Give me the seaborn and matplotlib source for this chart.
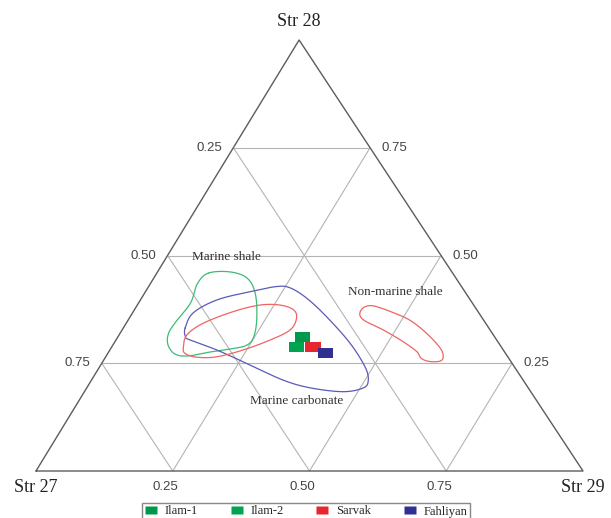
import numpy as np
import pandas as pd
import matplotlib
matplotlib.use("Agg")
import matplotlib.pyplot as plt
from matplotlib.lines import Line2D
import seaborn as sns

# ---- sample compositions (fractions of Str 27 / Str 28 / Str 29) ----
samples = ["Ilam-1", "Ilam-2", "Sarvak", "Fahliyan"]
str27 = [0.352, 0.375, 0.344, 0.329]
str28 = [0.311, 0.288, 0.288, 0.273]
str29 = [0.337, 0.337, 0.368, 0.398]
sample_colors = ["#00984a", "#00a352", "#e8262d", "#2e3192"]

# ---- source-field boundaries (Str 28, Str 29; Str 27 is the remainder) ----
marine_shale_28 = [0.459, 0.462, 0.448, 0.413, 0.357, 0.313, 0.292, 0.283, 0.276,
                   0.267, 0.271, 0.292, 0.318, 0.345, 0.390, 0.434]
marine_shale_29 = [0.094, 0.132, 0.170, 0.202, 0.232, 0.248, 0.245, 0.219, 0.185,
                   0.150, 0.124, 0.101, 0.089, 0.089, 0.095, 0.086]

marine_carb_28 = [0.332, 0.367, 0.397, 0.416, 0.428, 0.425, 0.401, 0.358, 0.297, 0.242,
                  0.211, 0.193, 0.184, 0.193, 0.211, 0.246, 0.281, 0.304, 0.312]
marine_carb_29 = [0.113, 0.111, 0.140, 0.191, 0.234, 0.260, 0.302, 0.359, 0.431, 0.485,
                  0.506, 0.506, 0.473, 0.408, 0.350, 0.273, 0.195, 0.135, 0.123]

lacustrine_28 = [0.288, 0.316, 0.343, 0.370, 0.385, 0.385, 0.374, 0.354, 0.327, 0.304,
                 0.281, 0.265, 0.264, 0.273]
lacustrine_29 = [0.131, 0.124, 0.141, 0.183, 0.224, 0.261, 0.291, 0.306, 0.307, 0.282,
                 0.244, 0.203, 0.167, 0.141]

nonmarine_28 = [0.370, 0.381, 0.383, 0.370, 0.350, 0.319, 0.285, 0.265, 0.255, 0.254,
                0.261, 0.277, 0.300, 0.327, 0.346, 0.358]
nonmarine_29 = [0.415, 0.418, 0.433, 0.470, 0.515, 0.561, 0.602, 0.617, 0.616, 0.598,
                0.579, 0.563, 0.527, 0.478, 0.438, 0.421]

field_colors = {"shale": "#3dbb74", "carbonate": "#5a5ab8", "red": "#ef6464"}

tick_values = [0.25, 0.50, 0.75]
tick_labels = ["0.25", "0.50", "0.75"]

SKEW = 0.481          # horizontal position of the apex along the base


def to_xy(s28, s29):
    s28 = np.asarray(s28, float)
    s29 = np.asarray(s29, float)
    return s29 + SKEW * s28, s28


def smooth_closed(x, y, n=24):
    """Closed Catmull-Rom curve through the boundary points."""
    P = np.column_stack([x, y])
    N = len(P)
    t = np.linspace(0, 1, n, endpoint=False)[:, None]
    parts = []
    for i in range(N):
        p0, p1, p2, p3 = P[i - 1], P[i], P[(i + 1) % N], P[(i + 2) % N]
        parts.append(0.5 * (2 * p1 + (-p0 + p2) * t
                            + (2 * p0 - 5 * p1 + 4 * p2 - p3) * t ** 2
                            + (-p0 + 3 * p1 - 3 * p2 + p3) * t ** 3))
    parts.append(P[:1])
    out = np.vstack(parts)
    return out[:, 0], out[:, 1]


sns.set_theme(style="white")
serif = "Liberation Serif"
sans = "Liberation Sans"

fig = plt.figure(figsize=(6.11, 5.18), dpi=100)
ax = fig.add_axes([0, 0, 1, 1])
ax.set_xlim(-36 / 547, 575 / 547)
ax.set_ylim(-47 / 431, 471 / 431)
ax.axis("off")

# ---- internal grid ----
grid_kw = dict(color="#b4b4b4", lw=0.8, zorder=1)
for v in tick_values:
    # constant Str 28
    x, y = to_xy([v, v], [0, 1 - v])
    ax.plot(x, y, **grid_kw)
    # constant Str 29
    x, y = to_xy([0, 1 - v], [v, v])
    ax.plot(x, y, **grid_kw)
    # constant Str 27
    x, y = to_xy([0, 1 - v], [1 - v, 0])
    ax.plot(x, y, **grid_kw)

# ---- outer triangle ----
x, y = to_xy([0, 0, 1, 0], [0, 1, 0, 0])
ax.plot(x, y, color="#5c5c5c", lw=1.0, zorder=2)

# ---- fields ----
for s28, s29, col in [(marine_shale_28, marine_shale_29, field_colors["shale"]),
                      (marine_carb_28, marine_carb_29, field_colors["carbonate"]),
                      (lacustrine_28, lacustrine_29, field_colors["red"]),
                      (nonmarine_28, nonmarine_29, field_colors["red"])]:
    cx, cy = to_xy(s28, s29)
    sx, sy = smooth_closed(cx, cy)
    ax.plot(sx, sy, color=col, lw=0.9, zorder=3)

# ---- samples ----
rect = [(-1.5, -1), (1.5, -1), (1.5, 1), (-1.5, 1), (-1.5, -1)]
px, py = to_xy(str28, str29)
df = pd.DataFrame({"x": px, "y": py, "sample": samples})
sns.scatterplot(data=df, x="x", y="y", hue="sample", palette=sample_colors,
                hue_order=samples, marker=rect, s=120, edgecolor="none",
                linewidth=0, legend=False, ax=ax, zorder=5)
ax.set_xlabel("")
ax.set_ylabel("")

# ---- tick labels ----
tick_kw = dict(fontsize=9.5, family=sans, color="#444444", textcoords="offset points")
for v, lab in zip(tick_values, tick_labels):
    # left edge (Str 27 fraction)
    x, y = to_xy([1 - v], [0])
    ax.annotate(lab, (x[0], y[0]), xytext=(-8, 0), ha="right", va="center", **tick_kw)
    # right edge (Str 28 fraction)
    x, y = to_xy([v], [1 - v])
    ax.annotate(lab, (x[0], y[0]), xytext=(8, 0), ha="left", va="center", **tick_kw)
    # base (Str 29 fraction)
    x, y = to_xy([0], [v])
    ax.annotate(lab, (x[0], y[0]), xytext=(-5, -7), ha="center", va="top", **tick_kw)

# ---- apex labels ----
apex_kw = dict(fontsize=13, family=serif, color="#222222", textcoords="offset points")
x, y = to_xy([1], [0])
ax.annotate("Str 28", (x[0], y[0]), xytext=(0, 7), ha="center", va="bottom", **apex_kw)
x, y = to_xy([0], [0])
ax.annotate("Str 27", (x[0], y[0]), xytext=(0, -6), ha="center", va="top", **apex_kw)
x, y = to_xy([0], [1])
ax.annotate("Str 29", (x[0], y[0]), xytext=(0, -6), ha="center", va="top", **apex_kw)

# ---- field names ----
name_kw = dict(fontsize=9.5, family=serif, color="#333333", ha="center", va="center")
for s28, s29, name in [(0.497, 0.110, "Marine shale"),
                       (0.415, 0.457, "Non-marine shale"),
                       (0.162, 0.399, "Marine carbonate")]:
    x, y = to_xy([s28], [s29])
    ax.text(x[0], y[0], name, **name_kw)

# ---- legend ----
handles = [Line2D([], [], marker=rect, linestyle="", markersize=9,
                  markerfacecolor=c, markeredgecolor="none") for c in sample_colors]
fig.legend(handles, samples, loc="upper center", ncol=4,
           bbox_to_anchor=(306 / 611, 1 - 503 / 518), borderaxespad=0,
           frameon=True, fancybox=False,
           edgecolor="#888888", framealpha=1, prop={"family": serif, "size": 9},
           handlelength=1.0, handletextpad=0.6, columnspacing=2.6, borderpad=0.2)

fig.savefig("out.png", dpi=100)
